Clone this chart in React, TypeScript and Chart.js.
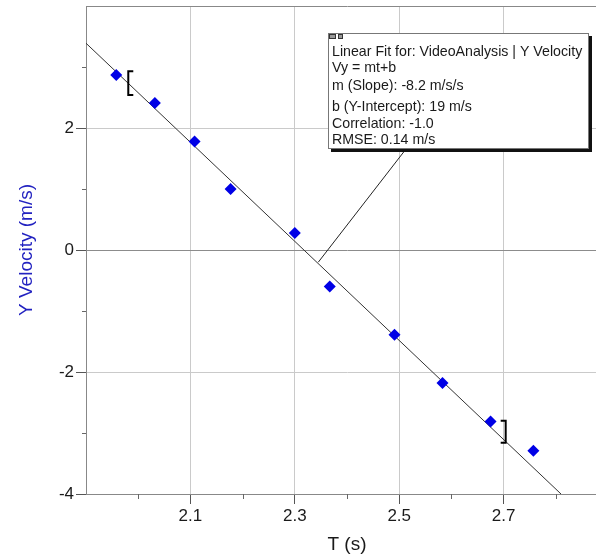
import { useEffect, useRef } from 'react';
import { Chart, registerables } from 'chart.js';

Chart.register(...registerables);

// ---- data ----
const timeS = [1.958, 2.032, 2.108, 2.177, 2.300, 2.367, 2.491, 2.583, 2.675, 2.757];
const velocityY = [2.87, 2.41, 1.78, 1.0, 0.28, -0.6, -1.39, -2.18, -2.81, -3.29];
const fitT = [1.9, 2.81];
const fitV = [3.39, -4.0];
const fitRangeT = [1.981, 2.704];
const bracketLeftV = [2.93, 2.54];
const bracketRightV = [-2.8, -3.16];
const xMajorTicks = [2.1, 2.3, 2.5, 2.7];
const xMinorTicks = [2.0, 2.2, 2.4, 2.6, 2.8];
const yMajorTicks = [-4, -2, 0, 2, 4];
const yMinorTicks = [-3, -1, 1, 3];
const yLabelledTicks = [-4, -2, 0, 2];
const fitLabelLines = [
  'Linear Fit for: VideoAnalysis | Y Velocity',
  'Vy = mt+b',
  'm (Slope): -8.2 m/s/s',
  'b (Y-Intercept): 19 m/s',
  'Correlation: -1.0',
  'RMSE: 0.14 m/s',
];
const boxAnchor = [2.364, 3.56];
const connectorAnchor = [2.345, -0.2];

const FONT = '"Liberation Sans", Arial, Helvetica, sans-serif';
const near = (a: number, list: number[]) => list.some((v) => Math.abs(v - a) < 1e-6);

const overlayPlugin = {
  id: 'overlay',
  afterDraw(chart: any) {
    const ctx = chart.ctx;
    const xs = chart.scales.x;
    const ys = chart.scales.y;
    const area = chart.chartArea;
    ctx.save();
    // minor ticks
    ctx.strokeStyle = '#666';
    ctx.lineWidth = 1;
    ctx.beginPath();
    xMinorTicks.forEach((v) => {
      const px = Math.round(xs.getPixelForValue(v)) + 0.5;
      ctx.moveTo(px, area.bottom);
      ctx.lineTo(px, area.bottom + 5);
    });
    yMinorTicks.forEach((v) => {
      const py = Math.round(ys.getPixelForValue(v)) + 0.5;
      ctx.moveTo(area.left - 4, py);
      ctx.lineTo(area.left, py);
    });
    ctx.stroke();

    // fit range brackets
    ctx.strokeStyle = '#000';
    ctx.lineWidth = 2;
    const lx = xs.getPixelForValue(fitRangeT[0]);
    const lt = ys.getPixelForValue(bracketLeftV[0]);
    const lb = ys.getPixelForValue(bracketLeftV[1]);
    ctx.beginPath();
    ctx.moveTo(lx + 5, lt);
    ctx.lineTo(lx, lt);
    ctx.lineTo(lx, lb);
    ctx.lineTo(lx + 5, lb);
    ctx.stroke();
    const rx = xs.getPixelForValue(fitRangeT[1]);
    const rt = ys.getPixelForValue(bracketRightV[0]);
    const rb = ys.getPixelForValue(bracketRightV[1]);
    ctx.beginPath();
    ctx.moveTo(rx - 5, rt);
    ctx.lineTo(rx, rt);
    ctx.lineTo(rx, rb);
    ctx.lineTo(rx - 5, rb);
    ctx.stroke();

    // annotation box
    const x0 = Math.round(xs.getPixelForValue(boxAnchor[0]));
    const y0 = Math.round(ys.getPixelForValue(boxAnchor[1]));
    ctx.font = '14.2px ' + FONT;
    const w = Math.ceil(Math.max(...fitLabelLines.map((l) => ctx.measureText(l).width))) + 10;
    const h = 116;
    // connector
    ctx.strokeStyle = '#222';
    ctx.lineWidth = 1;
    ctx.beginPath();
    ctx.moveTo(xs.getPixelForValue(connectorAnchor[0]), ys.getPixelForValue(connectorAnchor[1]));
    ctx.lineTo(x0 + 78, y0 + h);
    ctx.stroke();
    // shadow
    ctx.fillStyle = '#111';
    ctx.fillRect(x0 + 3, y0 + 3, w, h);
    ctx.fillStyle = '#fff';
    ctx.fillRect(x0, y0, w, h);
    ctx.strokeStyle = '#777';
    ctx.strokeRect(x0 + 0.5, y0 + 0.5, w - 1, h - 1);
    // icons
    ctx.fillStyle = '#999';
    ctx.fillRect(x0 + 1, y0 + 1, 7, 5);
    ctx.fillRect(x0 + 10, y0 + 1, 5, 5);
    ctx.strokeStyle = '#333';
    ctx.strokeRect(x0 + 1.5, y0 + 1.5, 6, 4);
    ctx.strokeRect(x0 + 10.5, y0 + 1.5, 4, 4);
    // text
    ctx.fillStyle = '#1a1a1a';
    ctx.textBaseline = 'middle';
    ctx.textAlign = 'left';
    const offs = [19, 35.5, 53, 74, 91.5, 107.5];
    fitLabelLines.forEach((l, i) => ctx.fillText(l, x0 + 4, y0 + offs[i]));
    ctx.restore();
  },
};

export default function App() {
  const ref = useRef<HTMLCanvasElement | null>(null);
  useEffect(() => {
    if (!ref.current) return;
    const chart = new Chart(ref.current, {
      type: 'scatter',
      data: {
        datasets: [
          {
            label: 'Y Velocity',
            data: timeS.map((t, i) => ({ x: t, y: velocityY[i] })),
            pointStyle: 'rectRot',
            pointRadius: 6,
            backgroundColor: '#0000e6',
            borderColor: '#0000e6',
            borderWidth: 0,
          },
          {
            type: 'line',
            label: 'Linear Fit',
            data: fitT.map((t, i) => ({ x: t, y: fitV[i] })),
            borderColor: '#333',
            borderWidth: 1,
            pointRadius: 0,
            showLine: true,
            fill: false,
          } as any,
        ],
      },
      options: {
        responsive: false,
        animation: false,
        layout: { autoPadding: false, padding: { top: 6, right: 0, left: 0, bottom: 0 } },
        plugins: { legend: { display: false }, tooltip: { enabled: false } },
        scales: {
          x: {
            type: 'linear',
            min: 1.9,
            max: 2.9,
            afterBuildTicks: (s: any) => {
              s.ticks = [...xMinorTicks, ...xMajorTicks].sort((a, b) => a - b).map((v) => ({ value: v }));
            },
            afterFit: (s: any) => {
              s.height = 62;
              s.paddingLeft = 0;
              s.paddingRight = 0;
            },
            ticks: {
              autoSkip: false,
              maxRotation: 0,
              padding: 2,
              color: '#1a1a1a',
              font: { family: FONT, size: 17 },
              callback: (v: any) => (near(Number(v), xMajorTicks) ? Number(v).toFixed(1) : ''),
            },
            grid: {
              color: (c: any) => (c.tick && near(c.tick.value, xMajorTicks) ? '#cacaca' : 'rgba(0,0,0,0)'),
              tickColor: (c: any) => (c.tick && near(c.tick.value, xMajorTicks) ? '#555' : 'rgba(0,0,0,0)'),
              tickLength: 10,
            },
            border: { display: true, color: '#888', width: 1 },
            title: {
              display: true,
              text: 'T (s)',
              color: '#1a1a1a',
              font: { family: FONT, size: 19 },
              padding: { top: 0, bottom: 0 },
            },
          },
          y: {
            type: 'linear',
            min: -4,
            max: 4,
            afterBuildTicks: (s: any) => {
              s.ticks = [...yMinorTicks, ...yMajorTicks].sort((a, b) => a - b).map((v) => ({ value: v }));
            },
            afterFit: (s: any) => {
              s.width = 86;
              s.paddingTop = 0;
              s.paddingBottom = 0;
            },
            ticks: {
              autoSkip: false,
              padding: 2,
              color: '#1a1a1a',
              font: { family: FONT, size: 17 },
              callback: (v: any) => (near(Number(v), yLabelledTicks) ? String(v) : ''),
            },
            grid: {
              color: (c: any) => {
                if (!c.tick) return 'rgba(0,0,0,0)';
                const v = c.tick.value;
                if (Math.abs(v) < 1e-6) return '#8c8c8c';
                if (Math.abs(Math.abs(v) - 4) < 1e-6) return '#888';
                if (near(v, yMajorTicks)) return '#cacaca';
                return 'rgba(0,0,0,0)';
              },
              tickColor: (c: any) =>
                c.tick && near(c.tick.value, yLabelledTicks) ? '#555' : 'rgba(0,0,0,0)',
              tickLength: 10,
            },
            border: { display: true, color: '#888', width: 1 },
            title: {
              display: true,
              text: 'Y Velocity (m/s)',
              color: '#2222c0',
              font: { family: FONT, size: 19 },
              padding: { top: 15, bottom: 0 },
            },
          },
        },
      },
      plugins: [overlayPlugin],
    });
    return () => chart.destroy();
  }, []);
  return (
    <div style={{ position: 'absolute', left: 0, top: 0, width: 596, height: 556, overflow: 'hidden', background: '#fff' }}>
      <canvas ref={ref} width={608} height={556} style={{ display: 'block' }} />
    </div>
  );
}
